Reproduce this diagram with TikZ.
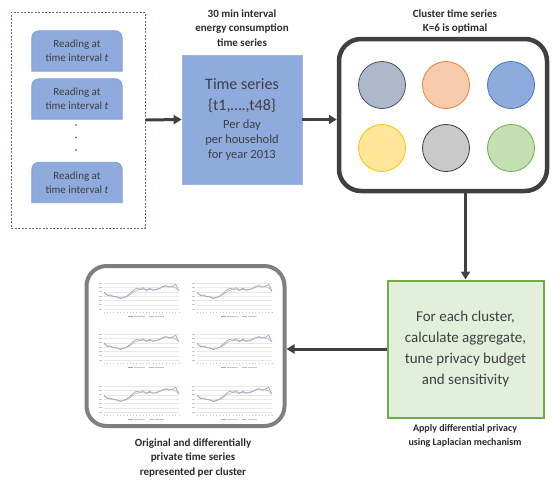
\documentclass[tikz,border=0pt]{standalone}
\usepackage{fontspec}
\setmainfont{Carlito}
\usetikzlibrary{arrows.meta,backgrounds}

\definecolor{boxblue}{HTML}{8FAADC}
\definecolor{boxblueline}{HTML}{7F9CD3}
\definecolor{dashblue}{HTML}{5B7096}
\definecolor{txtgray}{HTML}{3F3F3F}
\definecolor{capgray}{HTML}{2B2B2B}
\definecolor{darkframe}{HTML}{404040}
\definecolor{lightframe}{HTML}{7F7F7F}
\definecolor{dpfill}{HTML}{E2EFDA}
\definecolor{dpline}{HTML}{70AD47}
\definecolor{slatefill}{HTML}{ADB9CA}
\definecolor{slateline}{HTML}{44546A}
\definecolor{peachfill}{HTML}{F8CBAD}
\definecolor{peachline}{HTML}{ED7D31}
\definecolor{royalline}{HTML}{4472C4}
\definecolor{goldfill}{HTML}{FFE699}
\definecolor{goldline}{HTML}{FFC000}
\definecolor{greyfill}{HTML}{C9C9C9}
\definecolor{greyline}{HTML}{3B3B3B}
\definecolor{leaffill}{HTML}{C5E0B4}
\definecolor{privorange}{HTML}{F4B183}

\newcommand\tsfine{\fontsize{12.5}{21}\selectfont}

\tikzset{
  readbox/.style={align=center, minimum width=90, minimum height=40, text=txtgray,
    font=\fontsize{11}{14}\selectfont},
  caption/.style={align=center, text=capgray, font=\fontsize{11}{14.5}\selectfont\bfseries},
  flow/.style={draw=darkframe, line width=3pt, -{Triangle[length=8pt,width=9pt]}},
  cluster/.style={circle, minimum size=47, line width=0.8pt},
  chartgrid/.style={draw=black!9, line width=0.3pt},
  chartmark/.style={draw=black!22, line width=0.6pt},
  origline/.style={draw=boxblue, line width=0.7pt, line join=round},
  privline/.style={draw=privorange, line width=0.7pt, line join=round},
  minichart/.pic={
    \foreach \g in {0,...,6}
      \draw[chartgrid] (0,\g*4.33) -- (75,\g*4.33);
    \foreach \g in {0,...,6}
      \draw[chartmark] (-5,\g*4.33) -- (-2.5,\g*4.33);
    \foreach \i in {0,...,23}
      \draw[chartmark] (\i*3.26,28.5) -- (\i*3.26,29.8);
    \draw[privline] (0,9.9) \foreach \v [count=\i] in
      {11.7,13,13.5,14.3,14.8,14.6,13.5,11.7,9.1,7.3,6.5,6.2,6.2,6.5,6.8,6.2,5.2,3.9,3.1,3.1,3.6,5.2,7.8}
      {-- (\i*3.26,\v)};
    \draw[origline] (0,9.1) \foreach \v [count=\i] in
      {12.5,12,13.5,13.8,15.6,14.3,13,10.4,7.3,5.2,6.2,4.7,7.8,5.2,7.3,6.8,5.7,3.6,2.6,4.2,3.1,1.3,8.3}
      {-- (\i*3.26,\v)};
    \draw[origline] (24,33) -- (29,33);
    \draw[chartmark] (30,33) -- (41,33);
    \draw[privline] (45,33) -- (50,33);
    \draw[chartmark] (51,33) -- (60,33);
  }
}

\begin{document}
\begin{tikzpicture}[x=1pt,y=-1pt]
\useasboundingbox (0,0) rectangle (553,485);

% input readings
\node[draw=dashblue, dash pattern=on 2pt off 1.5pt, line width=0.8pt, minimum width=134, minimum height=216] (inputs) at (78,120) {};
\node[readbox] (r1) at (77,51) {Reading at\\time interval \textit{t}};
\node[readbox] (r2) at (77,99) {Reading at\\time interval \textit{t}};
\node[readbox] (r3) at (77,182.5) {Reading at\\time interval \textit{t}};
\begin{scope}[on background layer]
\foreach \r in {r1,r2,r3}
  \draw[fill=boxblue, draw=boxblueline, line width=0.8pt] (\r.south west) [rounded corners=7] -- (\r.north west) -- (\r.north east) [sharp corners] -- (\r.south east) -- cycle;
\end{scope}
\fill[txtgray] (76,125) circle (0.9) (76,137.5) circle (0.9) (76,150) circle (0.9);

% time series
\node[caption] (tstitle) at (242,28) {30 min interval\\energy consumption\\time series};
\node[fill=boxblue, draw=boxblue!85!white, line width=0.8pt, minimum width=120, minimum height=129, align=center, text=txtgray, font=\fontsize{16}{21}\selectfont] (ts) at (242,119.5)
  {Time series\\\{t1,….,t48\}\\[-3pt]{\tsfine Per day}\\[-6pt]{\tsfine per household}\\[-6pt]{\tsfine for year 2013}};

% clusters
\node[caption] (cltitle) at (455,21.5) {Cluster time series\\K=6 is optimal};
\node[draw=darkframe, line width=4.5pt, rounded corners=22, minimum width=208, minimum height=152] (clusters) at (443,115) {};
\node[cluster, fill=slatefill, draw=slateline] (k1) at (382,85) {};
\node[cluster, fill=peachfill, draw=peachline] (k2) at (446,85) {};
\node[cluster, fill=boxblue, draw=royalline] (k3) at (511,85) {};
\node[cluster, fill=goldfill, draw=goldline] (k4) at (382,148) {};
\node[cluster, fill=greyfill, draw=greyline] (k5) at (446,148) {};
\node[cluster, fill=leaffill, draw=dpline] (k6) at (511,148) {};

% differential privacy
\node[fill=dpfill, draw=dpline, line width=2pt, minimum width=156, minimum height=137, align=center, text=txtgray, font=\fontsize{15}{20.7}\selectfont] (dp) at (465.5,349)
  {For each cluster,\\calculate aggregate,\\tune privacy budget\\and sensitivity};
\node[caption, font=\fontsize{10}{14}\selectfont\bfseries] (dptitle) at (465,436) {Apply differential privacy\\using Laplacian mechanism};

% charts per cluster
\node[draw=lightframe, line width=4pt, rounded corners=20, minimum width=198, minimum height=160] (charts) at (185.5,346) {};
\foreach \cx in {104,197}
  \foreach \cy in {283,334,386}
    \pic at (\cx,\cy) {minichart};
\node[caption] (chtitle) at (193,457.5) {Original and differentially\\private time series\\represented per cluster};

% flow
\draw[flow] (inputs.east) -- (ts.west);
\draw[flow] (ts.east) -- (ts.east -| clusters.west);
\draw[flow] (clusters.south -| dp.north) -- (dp.north);
\draw[flow] (dp.west) -- (dp.west -| charts.east);
\end{tikzpicture}
\end{document}
